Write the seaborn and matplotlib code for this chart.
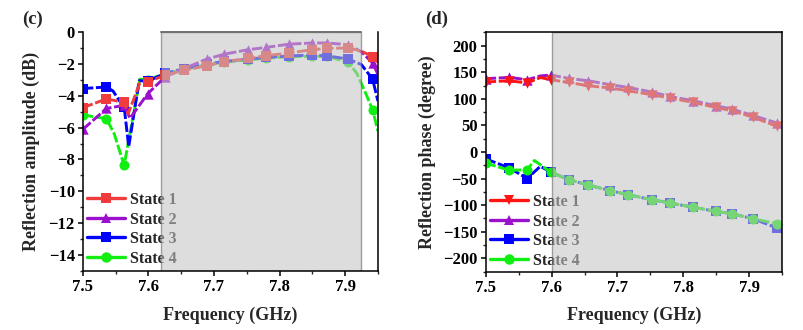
import matplotlib
matplotlib.use("Agg")
import matplotlib.pyplot as plt
from matplotlib.lines import Line2D
from matplotlib.ticker import MultipleLocator
import numpy as np
import pandas as pd
import seaborn as sns

# ---------------- data ----------------
# sampled frequencies (GHz) where markers are drawn
freq = [7.500, 7.536, 7.563, 7.599, 7.626, 7.655, 7.689, 7.716,
        7.752, 7.779, 7.815, 7.849, 7.873, 7.905, 7.942]

# (c) reflection amplitude (dB) at the marker frequencies
amp_s1 = [-4.75, -4.20, -4.42, -3.13, -2.71, -2.40, -2.12, -1.87, -1.66, -1.49, -1.32, -1.11, -1.03, -1.00, -1.55]
amp_s2 = [-6.12, -4.80, -4.60, -3.87, -2.80, -2.29, -1.70, -1.39, -1.11, -0.97, -0.76, -0.69, -0.69, -0.80, -1.95]
amp_s3 = [-3.55, -3.45, -4.69, -3.10, -2.58, -2.30, -2.00, -1.85, -1.70, -1.60, -1.50, -1.45, -1.50, -1.70, -2.96]
amp_s4 = [-5.21, -5.44, -8.37, -3.00, -2.60, -2.35, -2.05, -1.90, -1.75, -1.65, -1.55, -1.53, -1.53, -1.91, -4.90]

# extra simulated points between markers (frequency, dB)
amp_s1_extra = [(7.569, -5.15), (7.587, -3.20), (7.925, -1.20), (7.950, -1.90)]
amp_s2_extra = [(7.572, -5.42), (7.925, -1.25), (7.950, -2.65)]
amp_s3_extra = [(7.546, -3.70), (7.556, -4.33), (7.570, -7.20), (7.586, -3.05), (7.925, -2.05), (7.950, -4.33)]
amp_s4_extra = [(7.548, -6.40), (7.587, -2.96), (7.918, -2.60), (7.932, -3.90), (7.950, -6.22)]

# (d) reflection phase (degree) at the marker frequencies
ph_s1 = [131.6, 134.0, 129.7, 135.9, 130.8, 124.6, 120.3, 115.2, 107.7, 101.5, 93.2, 83.8, 77.6, 65.8, 48.1]
ph_s2 = [137.8, 140.2, 135.9, 144.7, 138.4, 134.0, 126.5, 121.4, 112.8, 104.5, 96.4, 87.0, 80.8, 68.8, 54.5]
ph_s3 = [-13.0, -30.0, -50.0, -38.0, -52.0, -62.0, -72.7, -80.3, -89.7, -95.9, -104.0, -111.7, -116.0, -125.4, -142.9]
ph_s4 = [-20.7, -34.5, -33.3, -38.3, -52.0, -62.0, -72.7, -80.3, -89.7, -95.9, -104.0, -111.7, -116.0, -125.4, -134.8]

ph_s1_extra = [(7.583, 140.0)]
ph_s2_extra = [(7.583, 143.0)]
ph_s3_extra = [(7.583, -27.0)]
ph_s4_extra = [(7.574, -16.0)]

labels = ["State 1", "State 2", "State 3", "State 4"]

# operating band shading (GHz)
band_c = (7.62, 7.925)
band_d = (7.60, 7.95)

# ---------------- style ----------------
sns.set_theme(style="ticks")
plt.rcParams["font.family"] = ["Liberation Serif", "DejaVu Serif"]
plt.rcParams["font.weight"] = "bold"
plt.rcParams["axes.labelweight"] = "bold"
plt.rcParams["axes.linewidth"] = 1.1

RED_C = "#f03c3c"
RED_D = "#ff1414"
PURPLE = "#9b10cc"
BLUE = "#0000ff"
GREEN = "#11ee11"

fig = plt.figure(figsize=(8.04, 3.30), dpi=100)
ax1 = fig.add_axes([0.103, 0.179, 0.367, 0.724])
ax2 = fig.add_axes([0.604, 0.177, 0.369, 0.725])


def curve(xs, ys, extra):
    df = pd.DataFrame({"f": list(xs) + [e[0] for e in extra],
                       "v": list(ys) + [e[1] for e in extra]})
    return df.sort_values("f").reset_index(drop=True)


def draw_state(ax, xs, ys, extra, color, marker, msize, z):
    df = curve(xs, ys, extra)
    n0 = len(ax.lines)
    sns.lineplot(data=df, x="f", y="v", ax=ax, color=color, lw=2.1,
                 estimator=None, sort=False, zorder=z)
    for ln in ax.lines[n0:]:
        ln.set_dashes((3.6, 0.9))
        ln.set_zorder(z)
    mk = pd.DataFrame({"f": xs, "v": ys})
    sns.scatterplot(data=mk, x="f", y="v", ax=ax, color=color, marker=marker,
                    s=msize, edgecolor=color, linewidth=0, zorder=z + 0.1)


# ---- panel (c) ----
draw_state(ax1, freq, amp_s4, amp_s4_extra, GREEN, "o", 52, 2.0)
draw_state(ax1, freq, amp_s3, amp_s3_extra, BLUE, "s", 48, 2.2)
draw_state(ax1, freq, amp_s2, amp_s2_extra, PURPLE, "^", 56, 2.4)
draw_state(ax1, freq, amp_s1, amp_s1_extra, RED_C, "s", 48, 2.6)

# ---- panel (d) ----
draw_state(ax2, freq, ph_s3, ph_s3_extra, BLUE, "s", 48, 2.0)
draw_state(ax2, freq, ph_s4, ph_s4_extra, GREEN, "o", 52, 2.2)
draw_state(ax2, freq, ph_s2, ph_s2_extra, PURPLE, "^", 56, 2.4)
draw_state(ax2, freq, ph_s1, ph_s1_extra, RED_D, "v", 56, 2.6)

ax1.set_xlim(7.5, 7.95)
ax1.set_ylim(-15, 0)
ax1.xaxis.set_major_locator(MultipleLocator(0.1))
ax1.xaxis.set_minor_locator(MultipleLocator(0.05))
ax1.yaxis.set_major_locator(MultipleLocator(2))
ax1.yaxis.set_minor_locator(MultipleLocator(1))

ax2.set_xlim(7.5, 7.95)
ax2.set_ylim(-225, 225)
ax2.xaxis.set_major_locator(MultipleLocator(0.1))
ax2.xaxis.set_minor_locator(MultipleLocator(0.05))
ax2.yaxis.set_major_locator(MultipleLocator(50))
ax2.yaxis.set_minor_locator(MultipleLocator(25))

for ax in (ax1, ax2):
    ax.set_xlabel("Frequency (GHz)", fontsize=13, fontweight="bold")
    ax.tick_params(which="major", direction="out", length=3.8, width=1.1,
                   labelsize=12, pad=2, colors="black")
    ax.tick_params(which="minor", direction="out", length=2.2, width=1.0)
    for lab in ax.get_xticklabels() + ax.get_yticklabels():
        lab.set_fontweight("bold")
    for sp in ax.spines.values():
        sp.set_zorder(8)
        sp.set_linewidth(1.1)
        sp.set_color("black")
    ax.set_facecolor("white")

ax1.set_ylabel("Reflection amplitude (dB)", fontsize=13, fontweight="bold")
ax2.set_ylabel("Reflection phase (degree)", fontsize=13, fontweight="bold")
ax1.yaxis.set_label_coords(-0.145, 0.5)
ax2.yaxis.set_label_coords(-0.168, 0.5)
ax1.xaxis.set_label_coords(0.5, -0.15)
ax2.xaxis.set_label_coords(0.5, -0.147)
ax1.spines["top"].set_visible(False)
ax1.spines["right"].set_visible(True)

# legends
def legend_handles(colors, markers):
    return [Line2D([0], [0], color=c, lw=2.4, marker=m, markersize=7.5,
                   markeredgewidth=0) for c, m in zip(colors, markers)]

leg_font = {"family": "Liberation Serif", "weight": "bold", "size": 11.5}
ax1.legend(legend_handles([RED_C, PURPLE, BLUE, GREEN], ["s", "^", "s", "o"]), labels,
           loc="upper left", bbox_to_anchor=(87 / 804, 1 - 192 / 330),
           bbox_transform=fig.transFigure, frameon=False, prop=leg_font,
           handlelength=2.4, handletextpad=0.3, labelspacing=0.22,
           borderpad=0, borderaxespad=0, numpoints=1)
ax2.legend(legend_handles([RED_D, PURPLE, BLUE, GREEN], ["v", "^", "s", "o"]), labels,
           loc="upper left", bbox_to_anchor=(490 / 804, 1 - 194 / 330),
           bbox_transform=fig.transFigure, frameon=False, prop=leg_font,
           handlelength=2.4, handletextpad=0.3, labelspacing=0.22,
           borderpad=0, borderaxespad=0, numpoints=1)

# shaded operating band, laid over the curves
ax1.axvspan(band_c[0], band_c[1], facecolor=(0.77, 0.77, 0.77), alpha=0.57,
            edgecolor="#606060", linewidth=1.0, zorder=6)
ax1.plot([band_c[0], band_c[1]], [0, 0], color="#707070", lw=1.4,
         clip_on=False, zorder=7)
ax2.axvspan(band_d[0], band_d[1], facecolor=(0.77, 0.77, 0.77), alpha=0.57,
            edgecolor="#606060", linewidth=1.0, zorder=6)

fig.text(22 / 804, 1 - 11 / 330, "(c)", fontsize=13.5, fontweight="bold", va="top")
fig.text(425 / 804, 1 - 11 / 330, "(d)", fontsize=13.5, fontweight="bold", va="top")

fig.savefig("out.png", dpi=100)
